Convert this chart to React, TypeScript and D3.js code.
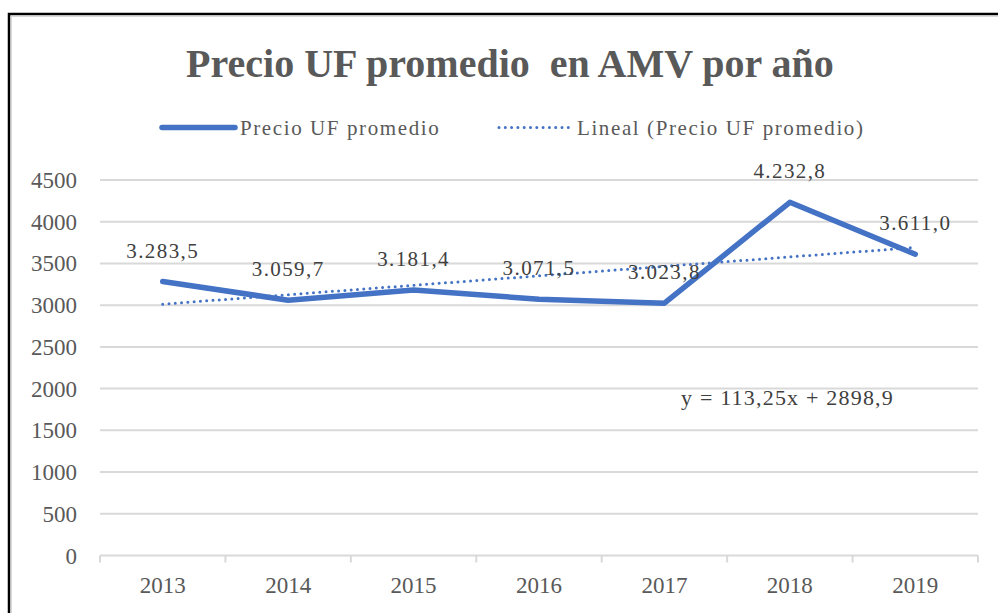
import * as d3 from 'd3';
import { useEffect, useRef } from 'react';

const years = ['2013', '2014', '2015', '2016', '2017', '2018', '2019'];
const precio = [3283.5, 3059.7, 3181.4, 3071.5, 3023.8, 4232.8, 3611.0];
const precioLabels = ['3.283,5', '3.059,7', '3.181,4', '3.071,5', '3.023,8', '4.232,8', '3.611,0'];
const yTicks = [0, 500, 1000, 1500, 2000, 2500, 3000, 3500, 4000, 4500];
// linear trend: y = 113.25x + 2898.9, x = 1..7
const trendSlope = 113.25;
const trendIntercept = 2898.9;

const BLUE = '#4472C4';
const TEXT = '#595959';
const GRID = '#D9D9D9';
const FONT = '"Liberation Serif", "Times New Roman", serif';

const App = () => {
  const ref = useRef(null);

  useEffect(() => {
    const svg = d3.select(ref.current);
    svg.selectAll('*').remove();

    // outer frame
    svg.append('rect')
      .attr('x', 9).attr('y', 14).attr('width', 1000).attr('height', 620)
      .attr('fill', 'white').attr('stroke', 'black').attr('stroke-width', 2.5);
    svg.append('rect')
      .attr('x', 11.5).attr('y', 16.5).attr('width', 1000).attr('height', 620)
      .attr('fill', 'none').attr('stroke', GRID).attr('stroke-width', 1);

    const x = d3.scaleBand().domain(years).range([100, 978]);
    const y = d3.scaleLinear().domain([0, 4500]).range([555.5, 180]);
    const cx = (d) => x(d) + x.bandwidth() / 2;

    // title
    svg.append('text')
      .attr('x', 510).attr('y', 77)
      .attr('text-anchor', 'middle')
      .style('font-family', FONT).style('font-weight', 'bold')
      .style('font-size', '40px').attr('fill', TEXT)
      .attr('xml:space', 'preserve')
      .text('Precio UF promedio  en AMV por año');

    // gridlines
    svg.append('g')
      .selectAll('line')
      .data(yTicks.filter((t) => t > 0))
      .join('line')
      .attr('x1', 100).attr('x2', 978)
      .attr('y1', (d) => y(d)).attr('y2', (d) => y(d))
      .attr('stroke', GRID).attr('stroke-width', 2);

    // y labels
    svg.append('g')
      .selectAll('text')
      .data(yTicks)
      .join('text')
      .attr('x', 77).attr('y', (d) => y(d) + 8)
      .attr('text-anchor', 'end')
      .style('font-family', FONT).style('font-size', '23px')
      .attr('fill', TEXT)
      .text((d) => d);

    // x axis
    const xAxis = svg.append('g')
      .attr('transform', `translate(0, ${y(0)})`)
      .call(d3.axisBottom(x).tickSize(0).tickPadding(0).tickFormat(() => ''));
    xAxis.select('.domain').remove();
    xAxis.append('line')
      .attr('x1', 100).attr('x2', 978).attr('stroke', GRID).attr('stroke-width', 2);
    xAxis.selectAll('.bound')
      .data([...years.map((d) => x(d)), 978])
      .join('line')
      .attr('class', 'bound')
      .attr('x1', (d) => d).attr('x2', (d) => d)
      .attr('y1', 0).attr('y2', 7)
      .attr('stroke', GRID).attr('stroke-width', 2);
    xAxis.selectAll('.yl')
      .data(years)
      .join('text')
      .attr('class', 'yl')
      .attr('x', (d) => cx(d)).attr('y', 37)
      .attr('text-anchor', 'middle')
      .style('font-family', FONT).style('font-size', '23px')
      .attr('fill', TEXT)
      .text((d) => d);

    // data line
    const line = d3.line()
      .x((d, i) => cx(years[i]))
      .y((d) => y(d));
    svg.append('path')
      .datum(precio)
      .attr('d', line)
      .attr('fill', 'none').attr('stroke', BLUE)
      .attr('stroke-width', 5.5).attr('stroke-linejoin', 'round')
      .attr('stroke-linecap', 'round');

    // trend line
    const trend = years.map((d, i) => trendSlope * (i + 1) + trendIntercept);
    svg.append('path')
      .datum(trend)
      .attr('d', line)
      .attr('fill', 'none').attr('stroke', BLUE)
      .attr('stroke-width', 3).attr('stroke-dasharray', '0 6.3')
      .attr('stroke-linecap', 'round');

    // data labels
    svg.append('g')
      .selectAll('text')
      .data(precio)
      .join('text')
      .attr('x', (d, i) => cx(years[i])).attr('y', (d) => y(d) - 24)
      .attr('text-anchor', 'middle')
      .style('font-family', FONT).style('font-size', '21px')
      .style('letter-spacing', '1.4px')
      .attr('fill', '#404040')
      .text((d, i) => precioLabels[i]);

    // trend equation
    svg.append('text')
      .attr('x', 681).attr('y', 405)
      .style('font-family', FONT).style('font-size', '22px')
      .style('letter-spacing', '1.2px')
      .attr('fill', '#404040')
      .text('y = 113,25x + 2898,9');

    // legend
    const legend = svg.append('g');
    legend.append('line')
      .attr('x1', 162).attr('x2', 235).attr('y1', 127.5).attr('y2', 127.5)
      .attr('stroke', BLUE).attr('stroke-width', 5.5).attr('stroke-linecap', 'round');
    legend.append('text')
      .attr('x', 240).attr('y', 135)
      .style('font-family', FONT).style('font-size', '21px')
      .style('letter-spacing', '1.6px')
      .attr('fill', TEXT)
      .text('Precio UF promedio');
    legend.append('line')
      .attr('x1', 499).attr('x2', 570).attr('y1', 127.5).attr('y2', 127.5)
      .attr('stroke', BLUE).attr('stroke-width', 3).attr('stroke-dasharray', '0 6.3')
      .attr('stroke-linecap', 'round');
    legend.append('text')
      .attr('x', 577).attr('y', 135)
      .style('font-family', FONT).style('font-size', '21px')
      .style('letter-spacing', '1.6px')
      .attr('fill', TEXT)
      .text('Lineal (Precio UF promedio)');
  }, []);

  return (
    <svg
      ref={ref}
      width={998}
      height={613}
      style={{ position: 'absolute', left: 0, top: 0, background: 'white' }}
    ></svg>
  );
};

export default App;
